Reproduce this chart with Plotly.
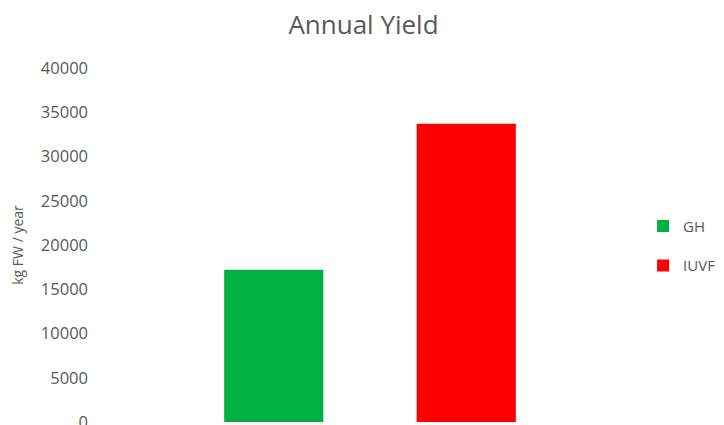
import plotly.graph_objects as go

categories = [""]
series_names = ["GH", "IUVF"]
gh_values = [17200]
iuvf_values = [33700]
series_colors = ["#00B040", "#FF0000"]
y_ticks = [0, 5000, 10000, 15000, 20000, 25000, 30000, 35000, 40000]

fig = go.Figure()
for name, vals, col in zip(series_names, [gh_values, iuvf_values], series_colors):
    fig.add_trace(go.Bar(x=categories, y=vals, name=name, marker_color=col,
                         marker_line_width=0, legendgroup=name))

gray = "#595959"
# page has 8px body margin, so figure is sized 716x417 and offsets shifted
fig.update_layout(
    width=716, height=417,
    margin=dict(l=92, r=84, t=60, b=3, pad=0, autoexpand=False),
    paper_bgcolor="white", plot_bgcolor="white",
    barmode="group", bargap=0.287, bargroupgap=0.485,
    title=dict(text="Annual Yield", x=0.4965, xref="container", xanchor="center",
               y=1 - 17 / 417, yanchor="middle",
               font=dict(family="Open Sans", size=26, color=gray)),
    font=dict(family="Open Sans", color=gray),
    xaxis=dict(showticklabels=False, showgrid=False, zeroline=False, showline=False,
               range=[-0.5, 0.5], automargin=False),
    yaxis=dict(range=[0, 40000], tickvals=y_ticks, ticktext=[str(v) for v in y_ticks],
               showgrid=False, zeroline=False, showline=False, automargin=False,
               tickfont=dict(family="Open Sans", size=16.5, color=gray),
               ticks="", ticklabelstandoff=11, ticklabeloverflow="allow",
               title=dict(text="kg FW / year", standoff=18,
                          font=dict(family="Open Sans", size=14, color=gray))),
    legend=dict(xref="container", yref="container", x=0.887, xanchor="left",
                y=0.43, yanchor="middle",
                font=dict(family="Open Sans", size=15, color=gray),
                traceorder="grouped", tracegroupgap=17, itemwidth=30),
    showlegend=True,
)

fig.write_html("out.html")
